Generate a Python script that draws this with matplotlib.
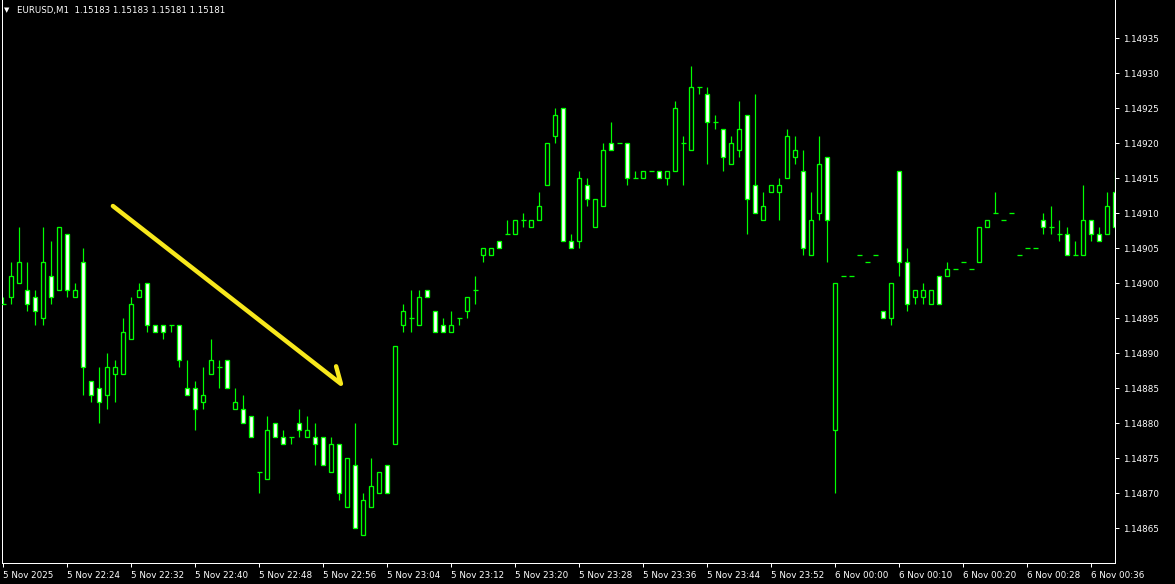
import matplotlib.pyplot as plt
import numpy as np

# EURUSD M1 candles, price in units of 0.00001 above 1.14000
otwarcie = [897, 898, 900, 899, 898, 895, 901, 899, 907, 898, 903, 886, 885, 884, 887, 887, 892, 898, 900, 894,
            894, 894, 894, 885, 885, 883, 887, 888, 889, 882, 882, 881, 873, 872, 880, 878, 878, 880, 878, 878,
            878, 873, 877, 868, 874, 864, 868, 870, 874, 877, 894, 895, 894, 899, 896, 894, 893, 895, 896, 899,
            904, 904, 906, 907, 907, 909, 908, 909, 914, 921, 925, 906, 906, 914, 908, 911, 920, 920, 920, 915,
            915, 916, 916, 915, 916, 920, 919, 928, 927, 923, 922, 917, 919, 924, 914, 909, 913, 913, 915, 918,
            916, 904, 910, 918, 879, 901, 901, 904, 903, 904, 896, 895, 916, 903, 898, 898, 897, 901, 901, 902,
            903, 902, 903, 908, 910, 909, 910, 904, 905, 905, 909, 908, 907, 907, 904, 904, 909, 907, 907, 913]
maks = [898, 903, 908, 903, 899, 908, 906, 908, 907, 900, 905, 886, 888, 890, 889, 895, 898, 900, 900, 894,
        894, 894, 894, 889, 886, 888, 892, 889, 889, 885, 884, 881, 873, 881, 880, 879, 878, 882, 881, 880,
        878, 878, 877, 875, 880, 870, 875, 873, 874, 891, 897, 899, 899, 899, 896, 895, 896, 895, 898, 901,
        905, 905, 906, 909, 909, 910, 909, 913, 920, 925, 925, 907, 916, 915, 912, 920, 923, 920, 920, 916,
        916, 916, 916, 916, 926, 921, 931, 928, 928, 924, 922, 921, 926, 924, 927, 913, 914, 915, 922, 921,
        919, 913, 921, 918, 900, 901, 901, 904, 903, 904, 896, 900, 916, 905, 899, 900, 899, 901, 903, 902,
        903, 902, 908, 909, 913, 909, 910, 904, 905, 905, 910, 911, 909, 908, 906, 914, 909, 908, 913, 916]
minim = [897, 897, 900, 896, 894, 894, 897, 899, 898, 898, 884, 883, 880, 882, 883, 887, 892, 898, 893, 893,
         892, 893, 888, 884, 879, 882, 887, 885, 885, 882, 880, 878, 870, 872, 878, 877, 877, 878, 878, 874,
         874, 873, 869, 868, 865, 864, 868, 870, 870, 877, 893, 893, 894, 898, 893, 893, 893, 894, 895, 897,
         903, 904, 905, 907, 907, 908, 908, 909, 914, 920, 906, 905, 905, 911, 908, 911, 919, 920, 914, 915,
         915, 916, 915, 914, 916, 914, 919, 927, 917, 922, 916, 917, 918, 907, 910, 909, 913, 909, 915, 917,
         904, 904, 909, 903, 870, 901, 901, 904, 903, 904, 895, 894, 901, 896, 897, 897, 897, 897, 901, 902,
         903, 902, 903, 908, 910, 909, 910, 904, 905, 905, 907, 907, 906, 904, 904, 904, 906, 906, 907, 908]
zamkniecie = [897, 901, 903, 897, 896, 903, 898, 908, 899, 899, 888, 884, 883, 888, 888, 893, 897, 899, 894, 893,
              893, 894, 889, 884, 882, 884, 889, 888, 885, 883, 880, 878, 873, 879, 878, 877, 878, 879, 879, 877,
              874, 877, 870, 875, 865, 869, 871, 873, 870, 891, 896, 895, 898, 898, 893, 893, 894, 895, 898, 899,
              905, 905, 905, 907, 909, 909, 909, 911, 920, 924, 906, 905, 915, 912, 912, 919, 919, 920, 915, 915,
              916, 916, 915, 916, 925, 920, 928, 928, 923, 923, 918, 920, 922, 912, 910, 911, 914, 914, 921, 919,
              905, 909, 917, 909, 900, 901, 901, 904, 903, 904, 895, 900, 903, 897, 899, 899, 899, 897, 902, 902,
              903, 902, 908, 909, 910, 909, 910, 904, 905, 905, 908, 908, 907, 904, 904, 909, 907, 906, 911, 908]

# time axis labels, one every 8 bars
etykiety_czasu = ['5 Nov 2025', '5 Nov 22:24', '5 Nov 22:32', '5 Nov 22:40', '5 Nov 22:48', '5 Nov 22:56',
                  '5 Nov 23:04', '5 Nov 23:12', '5 Nov 23:20', '5 Nov 23:28', '5 Nov 23:36', '5 Nov 23:44',
                  '5 Nov 23:52', '6 Nov 00:00', '6 Nov 00:10', '6 Nov 00:20', '6 Nov 00:28', '6 Nov 00:36']
ceny_osi = [1.14865, 1.14870, 1.14875, 1.14880, 1.14885, 1.14890, 1.14895,
            1.14900, 1.14905, 1.14910, 1.14915, 1.14920, 1.14925, 1.14930, 1.14935]

# yellow hand-drawn arrow (bar index, price)
strzalka_x = [13.7, 42.2, 41.6]
strzalka_y = [1.14911, 1.148856, 1.148881]

naglowek = 'EURUSD,M1  1.15183 1.15183 1.15181 1.15181'

o = 1.14 + np.array(otwarcie) / 1e5
h = 1.14 + np.array(maks) / 1e5
l = 1.14 + np.array(minim) / 1e5
c = 1.14 + np.array(zamkniecie) / 1e5
x = np.arange(len(o))

zielony = '#00FF00'
px = 72 / 100  # one pixel in points

fig = plt.figure(figsize=(11.75, 5.84), dpi=100, facecolor='black')
ax = fig.add_axes([2 / 1175, 21 / 584, 1113 / 1175, 563 / 584])
ax.set_facecolor('black')

# wicks
ax.vlines(x, l, h, color=zielony, linewidth=1.2 * px, zorder=2)

# bodies: white = down, black = up
cialo = o != c
spadek = c < o
ax.bar(x[cialo], np.abs(c - o)[cialo], bottom=np.minimum(o, c)[cialo], width=0.5,
       color=np.where(spadek[cialo], 'white', 'black'), edgecolor=zielony, linewidth=1.3 * px, zorder=3)
# dojis
ax.hlines(o[~cialo], x[~cialo] - 0.3, x[~cialo] + 0.3, color=zielony, linewidth=1.3 * px, zorder=3)

ax.plot(strzalka_x, strzalka_y, color='#F8E81C', linewidth=3.2, solid_capstyle='round',
        solid_joinstyle='round', zorder=5)

ax.set_xlim(-0.1625, 138.96)
ax.set_ylim(1.14860, 1.1494043)

ax.yaxis.tick_right()
ax.set_yticks(ceny_osi)
ax.set_yticklabels([f'{p:.5f}' for p in ceny_osi])
ax.set_xticks(x[::8])
ax.set_xticklabels(etykiety_czasu, ha='left')
ax.tick_params(colors='white', labelsize=6.3, length=3, width=px, pad=3)
ax.tick_params(axis='x', pad=3)

for s in ['left', 'right', 'bottom']:
    ax.spines[s].set_color('white')
    ax.spines[s].set_linewidth(px)
ax.spines['top'].set_visible(False)

fig.text(4 / 1175, 1 - 10 / 584, '\u25BC', color='white', fontsize=5, va='center')
fig.text(17 / 1175, 1 - 10 / 584, naglowek, color='white', fontsize=6.2, va='center')

fig.savefig('out.png', dpi=100, facecolor='black')
